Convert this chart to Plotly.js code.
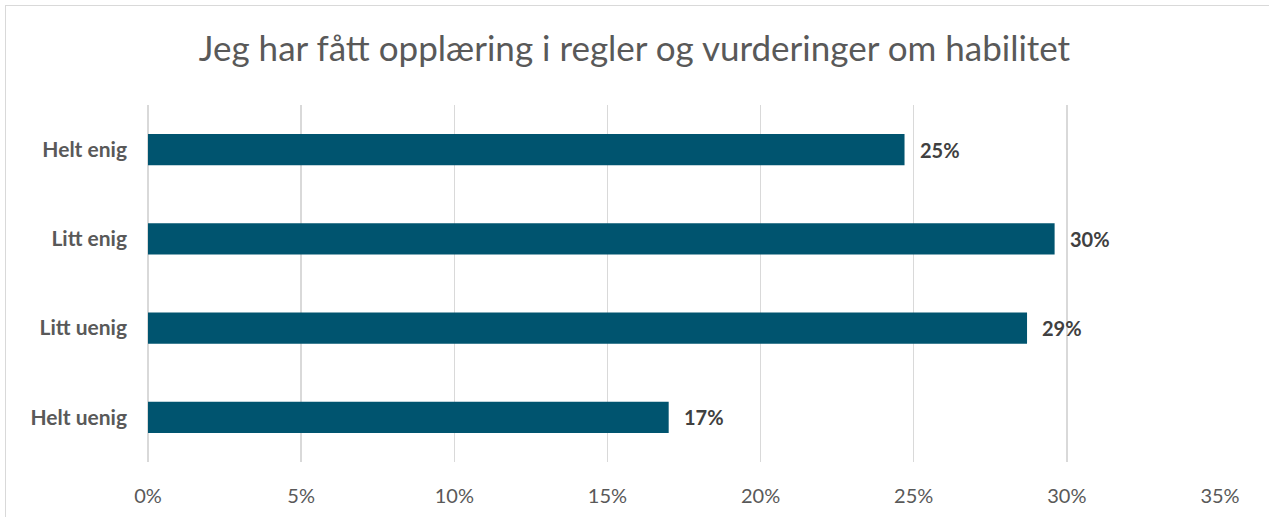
<!DOCTYPE html>
<html>
<head>
<meta charset="utf-8">
<script src="https://cdn.plot.ly/plotly-3.0.1.min.js"></script>
<style>
html,body{margin:0;padding:0;background:#fff;overflow:hidden;}
#frame{position:absolute;left:5px;top:5px;width:1300px;height:600px;border-left:1px solid #D9D9D9;border-top:1px solid #D9D9D9;pointer-events:none;z-index:5;}
#chart{position:absolute;left:0;top:0;width:1269px;height:517px;}
</style>
</head>
<body>
<div id="chart"></div>
<div id="frame"></div>
<script>
const categories = ["Helt enig", "Litt enig", "Litt uenig", "Helt uenig"];
const values = [0.247, 0.296, 0.287, 0.170];
const tickValues = [0, 0.05, 0.10, 0.15, 0.20, 0.25, 0.30, 0.35];
const tickLabels = ["0%", "5%", "10%", "15%", "20%", "25%", "30%", "35%"];
const titleText = "Jeg har fått opplæring i regler og vurderinger om habilitet";

const FONT = "Lato, 'Open Sans', sans-serif";

const trace = {
  type: "bar",
  orientation: "h",
  x: values,
  y: categories,
  marker: {color: "#00546F"},
  hoverinfo: "none"
};

const annotations = values.map((v, i) => ({
  x: v, y: categories[i], xref: "x", yref: "y",
  text: "<b>" + Math.round(v * 100) + "%</b>",
  showarrow: false, xanchor: "left", yanchor: "middle", xshift: 13,
  font: {family: FONT, size: 20, color: "#404040"}
}));

const layout = {
  width: 1269, height: 517,
  margin: {l: 148, r: 49, t: 105, b: 55, pad: 0},
  paper_bgcolor: "#ffffff", plot_bgcolor: "#ffffff",
  showlegend: false,
  bargap: 0.65,
  title: {text: titleText, x: 0.5, xanchor: "center", y: 0.905, yanchor: "middle",
          font: {family: FONT, size: 35, color: "#595959", weight: 400}},
  xaxis: {
    range: [0, 0.35], tickvals: tickValues, ticktext: tickLabels,
    showgrid: true, gridcolor: "#D9D9D9", gridwidth: 1.5,
    zeroline: true, zerolinecolor: "#D9D9D9", zerolinewidth: 1.5,
    showline: false, ticks: "", ticklabelstandoff: 20,
    tickfont: {family: FONT, size: 20, color: "#595959"},
    fixedrange: true
  },
  yaxis: {
    categoryorder: "array", categoryarray: categories, autorange: "reversed",
    showgrid: false, zeroline: false, showline: false, ticks: "",
    ticklabelstandoff: 20,
    tickfont: {family: FONT, size: 21, color: "#595959", weight: 700},
    fixedrange: true
  },
  annotations: annotations
};

Plotly.newPlot("chart", [trace], layout, {displayModeBar: false, staticPlot: true});
</script>
</body>
</html>
